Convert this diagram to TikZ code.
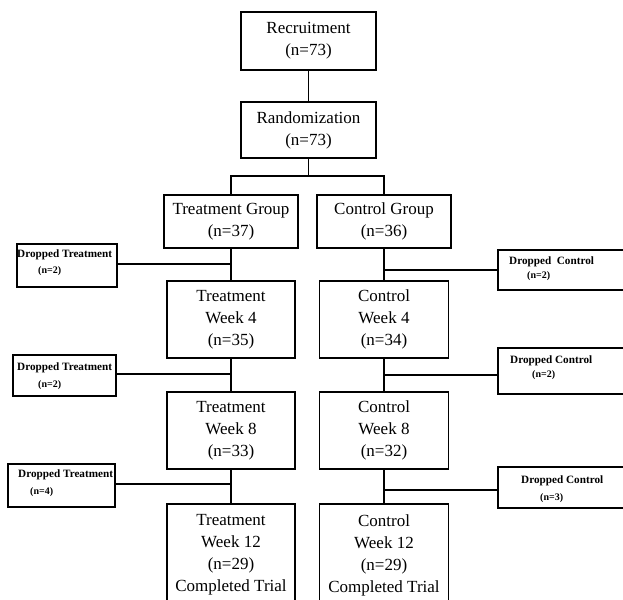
\documentclass[tikz,border=0pt]{standalone}
\usepackage{fontspec}
\setmainfont{Liberation Serif}
\begin{document}
\begin{tikzpicture}[x=1pt,y=-1pt,
  box/.style={draw, line width=1.4pt, align=center, inner sep=0pt, font=\fontsize{17}{22}\selectfont},
  dbox/.style={draw, line width=1.4pt, inner sep=0pt},
  dtxt/.style={anchor=base west, inner sep=0pt, font=\fontsize{11.2}{13}\selectfont\bfseries},
  ntxt/.style={anchor=base west, inner sep=0pt, font=\fontsize{10}{12}\selectfont\bfseries},
  conn/.style={line width=1.7pt}]
\useasboundingbox (0,0) rectangle (623,599);
\clip (0,0) rectangle (623,599);
% main boxes
\node[box, minimum width=135pt, minimum height=58pt] (rec) at (308.5,41) {Recruitment\\(n=73)};
\node[box, minimum width=135pt, minimum height=56pt] (rand) at (308.5,130) {Randomization\\(n=73)};
\node[box, minimum width=134pt, minimum height=53pt] (tg) at (231,221.5) {Treatment Group\\(n=37)};
\node[box, minimum width=134pt, minimum height=53pt] (cg) at (384,221.5) {Control Group\\(n=36)};
\node[box, minimum width=128pt, minimum height=77pt] (tw4) at (231,319.5) {Treatment\\Week 4\\(n=35)};
\node[box, minimum width=129pt, minimum height=77pt] (cw4) at (384,319.5) {Control\\Week 4\\(n=34)};
\node[box, minimum width=128pt, minimum height=77pt] (tw8) at (231,430.5) {Treatment\\Week 8\\(n=33)};
\node[box, minimum width=129pt, minimum height=77pt] (cw8) at (384,430.5) {Control\\Week 8\\(n=32)};
\node[box, minimum width=128pt, minimum height=102pt] (tw12) at (231,555) {Treatment\\Week 12\\(n=29)\\Completed Trial};
\node[box, minimum width=129pt, minimum height=102pt] (cw12) at (384,555) {Control\\Week 12\\(n=29)\\Completed Trial};
% dropped boxes
\node[dbox, minimum width=100pt, minimum height=43pt] (l1) at (67,265.5) {};
\node[dbox, minimum width=103pt, minimum height=41pt] (l2) at (64.5,375.5) {};
\node[dbox, minimum width=107pt, minimum height=43pt] (l3) at (61.5,485.5) {};
\node[dbox, minimum width=142pt, minimum height=40pt] (r1) at (569,270) {};
\node[dbox, minimum width=142pt, minimum height=46pt] (r2) at (569,371) {};
\node[dbox, minimum width=142pt, minimum height=41pt] (r3) at (569,487.5) {};
% dropped texts
\node[dtxt] (l1a) at (17,257) {Dropped Treatment};
\node[ntxt] (l1b) at (38,273) {(n=2)};
\node[dtxt] (l2a) at (17,370) {Dropped Treatment};
\node[ntxt] (l2b) at (38,387) {(n=2)};
\node[dtxt] (l3a) at (18,477) {Dropped Treatment};
\node[ntxt] (l3b) at (30,494) {(n=4)};
\node[dtxt] (r1a) at (509,264) {Dropped\ \ Control};
\node[ntxt] (r1b) at (527,278) {(n=2)};
\node[dtxt] (r2a) at (510,363) {Dropped Control};
\node[ntxt] (r2b) at (532,377) {(n=2)};
\node[dtxt] (r3a) at (521,483) {Dropped Control};
\node[ntxt] (r3b) at (540,500) {(n=3)};
% connectors
\draw[conn] (rec) -- (rand);
\draw[conn] (rand.south) -- ++(0,17) coordinate (br);
\draw[conn] (tg.north) |- (br) -| (cg.north);
\draw[conn] (tg) -- (tw4);
\draw[conn] (tw4) -- (tw8);
\draw[conn] (tw8) -- (tw12);
\draw[conn] (cg) -- (cw4);
\draw[conn] (cw4) -- (cw8);
\draw[conn] (cw8) -- (cw12);
\draw[conn] ([yshift=1.5pt]l1.east) -- ([yshift=1.5pt]l1.east -| tg.south);
\draw[conn] ([yshift=1.5pt]l2.east) -- ([yshift=1.5pt]l2.east -| tw4.south);
\draw[conn] ([yshift=1.5pt]l3.east) -- ([yshift=1.5pt]l3.east -| tw8.south);
\draw[conn] (r1.west) -- (r1.west -| cg.south);
\draw[conn] ([yshift=-4pt]r2.west) -- ([yshift=-4pt]r2.west -| cw4.south);
\draw[conn] ([yshift=-2.5pt]r3.west) -- ([yshift=-2.5pt]r3.west -| cw8.south);
\end{tikzpicture}
\end{document}
